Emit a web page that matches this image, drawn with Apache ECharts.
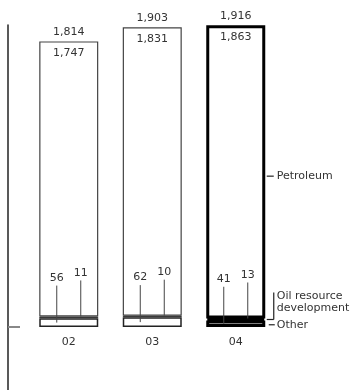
<!DOCTYPE html>
<html>
<head>
<meta charset="utf-8">
<script src="https://cdn.jsdelivr.net/npm/echarts@6/dist/echarts.min.js"></script>
<style>
html,body{margin:0;padding:0;background:#fff;}
#chart{width:353px;height:390px;}
</style>
</head>
<body>
<div id="chart"></div>
<script>
const categories = ['02', '03', '04'];
const petroleum = [1747, 1831, 1863];
const oilResource = [11, 10, 13];
const other = [56, 62, 41];
const totals = [1814, 1903, 1916];
const seriesNames = ['Petroleum', 'Oil resource\ndevelopment', 'Other'];

const FONT = 'DejaVu Sans';
const TXT = '#333';
const fmt = v => Number(v).toLocaleString('en-US');

function styled(arr, thinColor, thinWidth, fill) {
  return arr.map((v, i) => ({
    value: v,
    itemStyle: i === 2
      ? { color: fill, borderColor: '#000', borderWidth: 3 }
      : { color: fill, borderColor: thinColor, borderWidth: thinWidth }
  }));
}

const chart = echarts.init(document.getElementById('chart'), null, { renderer: 'canvas' });

const Y_MIN = -400, Y_MAX = 1918;

const option = {
  animation: false,
  backgroundColor: '#fff',
  grid: [
    { left: 27, right: 75.5, top: 25, bottom: 63, containLabel: false, outerBoundsMode: 'none' },
    { left: 27, right: 75.5, top: 25, bottom: 0, containLabel: false, outerBoundsMode: 'none' }
  ],
  xAxis: [
    {
      type: 'category', gridIndex: 0,
      data: categories,
      axisLine: { show: false },
      axisTick: { show: false },
      axisLabel: { show: true, color: TXT, fontFamily: FONT, fontSize: 11, margin: 10 }
    },
    {
      type: 'category', gridIndex: 1, data: categories, show: false
    }
  ],
  yAxis: [
    {
      type: 'value', gridIndex: 0,
      min: 0, max: Y_MAX,
      show: false
    },
    {
      type: 'value', gridIndex: 1,
      min: Y_MIN, max: Y_MAX,
      offset: 19,
      splitLine: { show: false },
      axisLabel: { show: false },
      axisLine: { show: true, lineStyle: { color: '#222', width: 1.5 } },
      axisTick: { show: true, inside: true, length: 12, customValues: [0], lineStyle: { color: '#888', width: 2 } }
    }
  ],
  series: [
    {
      name: 'Other', type: 'bar', stack: 'a', barWidth: 59, barGap: '-100%',
      data: styled(other, '#222', 1.5, '#fff'),
      silent: true
    },
    {
      name: 'Oil resource development', type: 'bar', stack: 'a', barWidth: 59, barGap: '-100%',
      data: styled(oilResource, '#333', 1, '#333'),
      silent: true
    },
    {
      name: 'Petroleum', type: 'bar', stack: 'a', barWidth: 59, barGap: '-100%',
      data: styled(petroleum, '#444', 1.2, '#fff'),
      silent: true,
      label: {
        show: true, position: 'insideTop', distance: 6,
        color: TXT, fontFamily: FONT, fontSize: 11,
        formatter: p => fmt(p.value)
      }
    },
    {
      name: 'Total', type: 'bar', barWidth: 59, barGap: '-100%',
      data: totals,
      silent: true, z: 1,
      itemStyle: { color: 'rgba(0,0,0,0)' },
      label: {
        show: true, position: 'top', distance: 4,
        color: TXT, fontFamily: FONT, fontSize: 11,
        formatter: p => fmt(p.value)
      }
    },
    {
      name: 'leaders', type: 'custom', coordinateSystem: 'cartesian2d', clip: false, silent: true, z: 5,
      data: categories.map((c, i) => [i, other[i], oilResource[i]]),
      renderItem: (params, api) => {
        const i = api.value(0), oth = api.value(1), oil = api.value(2);
        const cx = api.coord([i, 0])[0];
        const yOth = api.coord([i, oth / 2])[1];
        const yOil = api.coord([i, oth + oil])[1];
        const x1 = cx - 12, x2 = cx + 12;
        const l1 = 37, l2 = 36;
        const ls = { stroke: '#444', lineWidth: 1 };
        const ts = { fill: TXT, fontFamily: FONT, fontSize: 11, align: 'center', verticalAlign: 'bottom' };
        return {
          type: 'group',
          children: [
            { type: 'line', shape: { x1: x1, y1: yOth, x2: x1, y2: yOth - l1 }, style: ls },
            { type: 'line', shape: { x1: x2, y1: yOil, x2: x2, y2: yOil - l2 }, style: ls },
            { type: 'text', style: Object.assign({ text: String(oth), x: x1, y: yOth - l1 - 2 }, ts) },
            { type: 'text', style: Object.assign({ text: String(oil), x: x2, y: yOil - l2 - 2 }, ts) }
          ]
        };
      }
    },
    {
      name: 'seriesLabels', type: 'custom', coordinateSystem: 'cartesian2d', clip: false, silent: true, z: 5,
      data: [[2, totals[2], other[2], oilResource[2]]],
      renderItem: (params, api) => {
        const i = api.value(0), tot = api.value(1), oth = api.value(2), oil = api.value(3);
        const right = api.coord([i, 0])[0] + 31;
        const yPet = api.coord([i, tot / 2])[1];
        const yOil = api.coord([i, oth + oil])[1];
        const yOth = api.coord([i, oth / 2])[1];
        const ls = { stroke: '#222', lineWidth: 1.2 };
        const ts = { fill: TXT, fontFamily: FONT, fontSize: 11, align: 'left', verticalAlign: 'middle' };
        return {
          type: 'group',
          children: [
            { type: 'line', shape: { x1: right, y1: yPet, x2: right + 7, y2: yPet }, style: ls },
            { type: 'text', style: Object.assign({ text: seriesNames[0], x: right + 10, y: yPet }, ts) },
            { type: 'line', shape: { x1: right, y1: yOil + 1, x2: right + 7, y2: yOil + 1 }, style: ls },
            { type: 'line', shape: { x1: right + 7, y1: yOil + 1, x2: right + 7, y2: yOil - 26 }, style: ls },
            { type: 'text', style: { text: seriesNames[1], x: right + 10, y: yOil - 29, fill: TXT, fontFamily: FONT, fontSize: 11, lineHeight: 12.5, align: 'left', verticalAlign: 'top' } },
            { type: 'line', shape: { x1: right + 2, y1: yOth + 1, x2: right + 8, y2: yOth + 1 }, style: ls },
            { type: 'text', style: Object.assign({ text: seriesNames[2], x: right + 10, y: yOth + 1 }, ts) }
          ]
        };
      }
    }
  ]
};
chart.setOption(option);
</script>
</body>
</html>
